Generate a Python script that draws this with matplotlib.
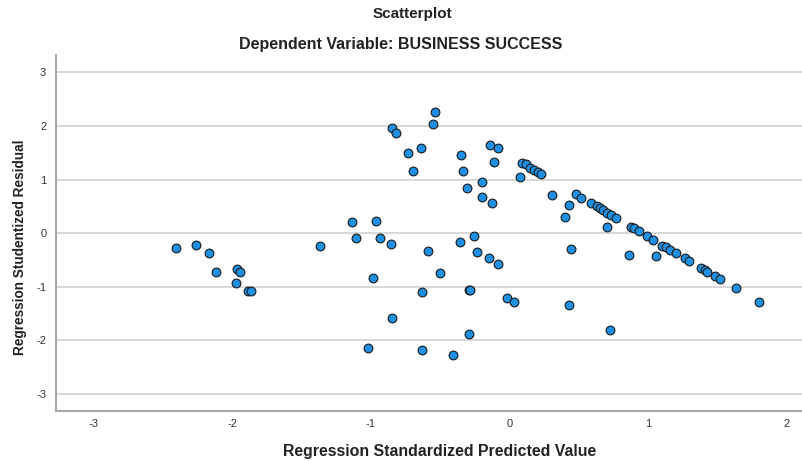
import matplotlib
matplotlib.use("Agg")
import matplotlib.pyplot as plt

plt.rcParams['font.family'] = ['Liberation Sans', 'DejaVu Sans']
plt.rcParams['axes.unicode_minus'] = False

# standardized predicted value (x) and studentized residual (y)
pred = [-2.404, -2.262, -2.166, -2.113, -1.966, -1.942, -1.973, -1.887, -1.865,
        -0.537, -0.551, -0.842, -0.816, -0.729, -0.635, -0.691, -0.349, -0.332,
        -0.137, -0.084, -0.113, -0.193, -0.305, -0.195, -0.123,
        0.096, 0.118, 0.152, 0.176, 0.207, 0.231, 0.079, 0.306,
        -1.131, -0.958, -1.102, -0.929, -0.850, -1.362, -0.587, -0.354, -0.253,
        -0.229, -0.144, -0.079,
        -0.982, -0.498, -0.626, -0.287, -0.280, -0.017, 0.034, -0.847, -0.291,
        -1.020, -0.630, -0.404,
        0.479, 0.517, 0.431, 0.404, 0.445,
        0.592, 0.633, 0.652, 0.676, 0.708, 0.736, 0.768, 0.708,
        0.881, 0.898, 0.934, 0.866, 0.991, 1.035, 1.059,
        1.105, 1.131, 1.160, 1.204, 1.269, 1.297, 1.381, 1.410, 1.430,
        1.485, 1.523, 1.634, 1.803, 0.428, 0.729]
resid = [-0.276, -0.215, -0.370, -0.724, -0.668, -0.718, -0.930, -1.079, -1.079,
         2.261, 2.043, 1.962, 1.862, 1.496, 1.595, 1.153, 1.452, 1.153,
         1.651, 1.595, 1.328, 0.948, 0.836, 0.668, 0.556,
         1.315, 1.297, 1.216, 1.172, 1.142, 1.097, 1.054, 0.713,
         0.215, 0.220, -0.097, -0.090, -0.209, -0.239, -0.340, -0.159, -0.047,
         -0.351, -0.470, -0.582,
         -0.830, -0.743, -1.091, -1.054, -1.060, -1.203, -1.290, -1.576, -1.887,
         -2.136, -2.180, -2.267,
         0.724, 0.649, 0.526, 0.308, -0.289,
         0.563, 0.500, 0.463, 0.425, 0.377, 0.340, 0.284, 0.108,
         0.108, 0.090, 0.034, -0.401, -0.060, -0.121, -0.425,
         -0.233, -0.265, -0.308, -0.377, -0.470, -0.513, -0.644, -0.694, -0.724,
         -0.806, -0.862, -1.030, -1.284, -1.347, -1.800]

xticks = [-3, -2, -1, 0, 1, 2]
yticks = [-3, -2, -1, 0, 1, 2, 3]

fig = plt.figure(figsize=(8.03, 4.61), dpi=100)
ax = fig.add_axes([56 / 803, 50.3 / 461, 1 - 56 / 803, (410.7 - 54.7) / 461])

ax.scatter(pred, resid, s=40, facecolor='#1E8FE1', edgecolor='#1a1a1a',
           linewidth=0.8, zorder=3)

ax.set_xlim(-3.27, 2.12)
ax.set_ylim(-3.31, 3.33)
ax.set_xticks(xticks)
ax.set_yticks(yticks)
ax.tick_params(axis='x', length=0, labelsize=8, labelcolor='#333333', pad=6)
ax.tick_params(axis='y', length=0, labelsize=8, labelcolor='#333333', pad=7)
ax.yaxis.grid(True, color='#d4d4d4', linewidth=1.3)
ax.set_axisbelow(True)
for side in ['top', 'right']:
    ax.spines[side].set_visible(False)
for side in ['left', 'bottom']:
    ax.spines[side].set_color('#a8a8a8')
    ax.spines[side].set_linewidth(1.5)

ax.set_xlabel("Regression Standardized Predicted Value", fontsize=11.4,
              fontweight='bold', color='#222222', labelpad=11)
ax.set_ylabel("Regression Studentized Residual", fontsize=9.8,
              fontweight='bold', color='#222222', labelpad=7)
ax.xaxis.label.set_x(0.514)
ax.yaxis.label.set_y(0.458)

fig.text(412 / 803, 1 - 14 / 461, "Scatterplot", ha='center', va='center',
         fontsize=11, fontweight='bold', color='#222222')
fig.text(401 / 803, 1 - 44 / 461, "Dependent Variable: BUSINESS SUCCESS",
         ha='center', va='center', fontsize=11.5, fontweight='bold', color='#222222')

fig.savefig("out.png", dpi=100)
